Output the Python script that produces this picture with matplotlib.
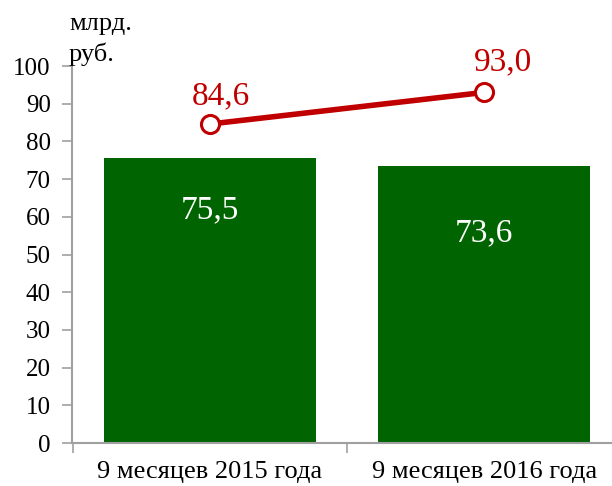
import matplotlib
matplotlib.use("Agg")
import matplotlib.pyplot as plt

categories = ["9 месяцев 2015 года", "9 месяцев 2016 года"]
bar_values = [75.5, 73.6]
line_values = [84.6, 93.0]
bar_labels = ["75,5", "73,6"]
line_labels = ["84,6", "93,0"]
yticks = [0, 10, 20, 30, 40, 50, 60, 70, 80, 90, 100]

plt.rcParams['font.family'] = ['Liberation Serif', 'DejaVu Serif']

fig = plt.figure(figsize=(6.12, 4.86), dpi=100)
ax = fig.add_axes([71.5 / 612, 1 - 443 / 486, 1 - 71.5 / 612, (443 - 66) / 486])

x = list(range(len(categories)))
ax.bar(x, bar_values, width=0.771, color="#006400", zorder=2)
ax.plot(x, line_values, color="#C00000", lw=4, marker="o", markersize=13,
        markerfacecolor="white", markeredgecolor="#C00000", markeredgewidth=2.2, zorder=3)

bar_label_frac = [0.819, 0.757]
for xi, v, lab, f in zip(x, bar_values, bar_labels, bar_label_frac):
    ax.text(xi, v * f, lab, ha="center", va="center", color="white", fontsize=24)
offsets = [(0.042, 7.4), (0.068, 8.1)]
for xi, v, lab, (dx, dy) in zip(x, line_values, line_labels, offsets):
    ax.text(xi + dx, v + dy, lab, ha="center", va="center", color="#C00000", fontsize=24)

ax.set_yticks(yticks)
ax.set_yticklabels([str(t) for t in yticks], fontsize=18)
ax.set_xticks([-0.5, 0.5, 1.5], minor=False)
ax.set_xticklabels(["", "", ""])
ax.set_xticks(x, minor=True)
ax.set_xticklabels(categories, minor=True, fontsize=19)
ax.set_xlim(-0.504, 1.466)
ax.set_ylim(0, 100)
ax.tick_params(axis="x", which="minor", length=0, pad=13)
ax.tick_params(axis="x", which="major", length=7, color="#a0a0a0", width=1.2)
ax.tick_params(axis="y", length=7, color="#a0a0a0", width=1.2, pad=8)

for s in ["top", "right"]:
    ax.spines[s].set_visible(False)
for s in ["left", "bottom"]:
    ax.spines[s].set_color("#a0a0a0")
    ax.spines[s].set_linewidth(1.5)

fig.text(69 / 612, 1 - 13 / 486, "млрд.\nруб.", ha="left", va="top", fontsize=19, linespacing=1.4)

fig.savefig("out.png", dpi=100)
